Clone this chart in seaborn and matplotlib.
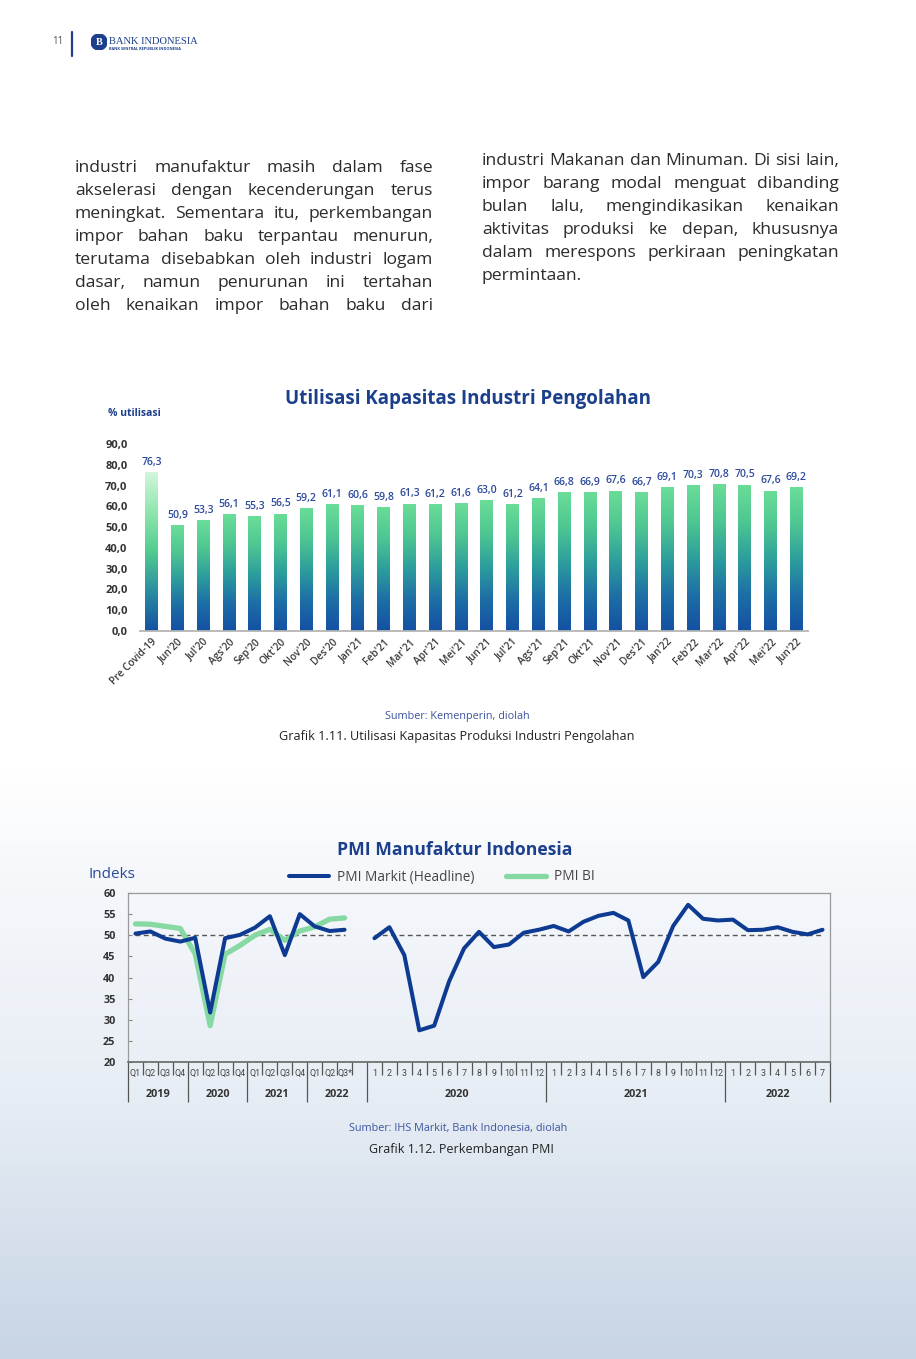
import numpy as np
import pandas as pd
import matplotlib
matplotlib.use("Agg")
import matplotlib.pyplot as plt
import seaborn as sns
from matplotlib.colors import LinearSegmentedColormap
from matplotlib.lines import Line2D
from matplotlib.patches import Circle

# ---- data: capacity utilisation (bar chart) ----
periods = ["Pre Covid-19", "Jun'20", "Jul'20", "Ags'20", "Sep'20", "Okt'20", "Nov'20",
           "Des'20", "Jan'21", "Feb'21", "Mar'21", "Apr'21", "Mei'21", "Jun'21",
           "Jul'21", "Ags'21", "Sep'21", "Okt'21", "Nov'21", "Des'21", "Jan'22",
           "Feb'22", "Mar'22", "Apr'22", "Mei'22", "Jun'22"]
utilisasi = [76.3, 50.9, 53.3, 56.1, 55.3, 56.5, 59.2, 61.1, 60.6, 59.8, 61.3, 61.2,
             61.6, 63.0, 61.2, 64.1, 66.8, 66.9, 67.6, 66.7, 69.1, 70.3, 70.8, 70.5,
             67.6, 69.2]
util_ticks = [0, 10, 20, 30, 40, 50, 60, 70, 80, 90]

# ---- data: PMI ----
quarters = ["Q1", "Q2", "Q3", "Q4", "Q1", "Q2", "Q3", "Q4", "Q1", "Q2", "Q3", "Q4",
            "Q1", "Q2", "Q3*"]
quarter_years = ["2019", "2020", "2021", "2022"]
quarter_counts = [4, 4, 4, 3]
markit_quarterly = [50.4, 50.9, 49.2, 48.5, 49.4, 31.7, 49.3, 50.1, 51.8, 54.5,
                    45.3, 55.0, 52.1, 51.0, 51.3]
bi_quarterly = [52.7, 52.6, 52.1, 51.6, 45.6, 28.6, 45.5, 47.6, 50.0, 51.4, 48.8,
                51.0, 52.0, 53.8, 54.1]
months = ["1", "2", "3", "4", "5", "6", "7", "8", "9", "10", "11", "12",
          "1", "2", "3", "4", "5", "6", "7", "8", "9", "10", "11", "12",
          "1", "2", "3", "4", "5", "6", "7"]
month_years = ["2020", "2021", "2022"]
month_counts = [12, 12, 7]
markit_monthly = [49.3, 51.9, 45.3, 27.5, 28.6, 39.1, 46.9, 50.8, 47.2, 47.8, 50.6,
                  51.3, 52.2, 50.9, 53.2, 54.6, 55.3, 53.5, 40.1, 43.7, 52.2, 57.2,
                  53.9, 53.5, 53.7, 51.2, 51.3, 51.9, 50.8, 50.2, 51.3]
pmi_threshold = 50
pmi_ticks = [20, 25, 30, 35, 40, 45, 50, 55, 60]

# ---- page text ----
left_lines = [
    "industri manufaktur masih dalam fase",
    "akselerasi dengan kecenderungan terus",
    "meningkat. Sementara itu, perkembangan",
    "impor bahan baku terpantau menurun,",
    "terutama disebabkan oleh industri logam",
    "dasar, namun penurunan ini tertahan",
    "oleh kenaikan impor bahan baku dari",
]
right_lines = [
    "industri Makanan dan Minuman. Di sisi lain,",
    "impor barang modal menguat dibanding",
    "bulan lalu, mengindikasikan kenaikan",
    "aktivitas produksi ke depan, khususnya",
    "dalam merespons perkiraan peningkatan",
    "permintaan.",
]

NAVY = "#1c3f8c"
BLUE_LINE = "#0e3b92"
GREEN_LINE = "#86d9a3"
TEXT = "#2b2b2b"

sns.set_theme(style="white")
plt.rcParams["font.family"] = ["Open Sans", "DejaVu Sans"]

W, H = 916, 1359
fig = plt.figure(figsize=(W / 100, H / 100), dpi=100)


def fx(px):
    return px / W


def fy(py):
    return 1 - py / H


# page background: white at top fading into pale blue
bg = fig.add_axes([0, 0, 1, 1], zorder=-10)
bg_cmap = LinearSegmentedColormap.from_list(
    "bg", [(0, "#ffffff"), (0.57, "#ffffff"), (0.65, "#f5f7fb"),
           (0.8, "#e8eef5"), (1, "#c8d5e5")])
bg.imshow(np.linspace(0, 1, 600).reshape(-1, 1), cmap=bg_cmap, aspect="auto",
          extent=[0, 1, 0, 1], origin="upper")
bg.axis("off")

# header
fig.text(fx(58), fy(42), "11", fontsize=7, color="#555555", ha="center", va="center")
fig.add_artist(Line2D([fx(72), fx(72)], [fy(32), fy(56)], color=NAVY, lw=1.6,
                      transform=fig.transFigure))
logo = fig.add_axes([fx(91), fy(50), fx(16), 16 / H])
logo.add_patch(Circle((0.5, 0.5), 0.5, color=NAVY))
logo.text(0.5, 0.47, "B", color="white", ha="center", va="center", fontsize=7.5,
          fontweight="bold", family="Liberation Serif")
logo.set_xlim(0, 1)
logo.set_ylim(0, 1)
logo.axis("off")
fig.text(fx(109), fy(41), "BANK INDONESIA", fontsize=7.6, color=NAVY,
         family="Liberation Serif", va="center")
fig.text(fx(109), fy(49.5), "BANK SENTRAL REPUBLIK INDONESIA", fontsize=2.8,
         color=NAVY, fontweight="bold", va="center")

# justified body text
renderer = fig.canvas.get_renderer()


def justify(lines, x0, x1, base0, dy, last_full):
    for i, line in enumerate(lines):
        words = line.split()
        y = fy(base0 + dy * i)
        texts = [fig.text(0, y, w, fontsize=12.6, color=TEXT, va="baseline") for w in words]
        widths = [t.get_window_extent(renderer).width for t in texts]
        if (i < len(lines) - 1 or last_full) and len(words) > 1:
            gap = (x1 - x0 - sum(widths)) / (len(words) - 1)
        else:
            gap = 4.5
        x = x0
        for t, w in zip(texts, widths):
            t.set_x(fx(x))
            x += w + gap


justify(left_lines, 75, 433, 172, 23, True)
justify(right_lines, 482, 839, 165, 23, False)

# ---- chart 1: capacity utilisation ----
ax1 = fig.add_axes([fx(140), fy(631), fx(808) - fx(140), (631 - 444) / H])
ax1.set_facecolor("none")
util_df = pd.DataFrame({"periode": periods, "utilisasi": utilisasi})
sns.barplot(data=util_df, x="periode", y="utilisasi", ax=ax1, width=0.5,
            color="#2a8fa0", saturation=1)

bar_cmap = LinearSegmentedColormap.from_list(
    "bars", ["#1450a3", "#1d6fa6", "#2d9f9c", "#4fc792", "#6bdd98"])
pre_cmap = LinearSegmentedColormap.from_list(
    "pre", ["#1450a3", "#2a8ea0", "#52cc8f", "#8fe6ad", "#d2f6dd"])
grad = np.linspace(0, 1, 256).reshape(-1, 1)
for i, p in enumerate(ax1.patches):
    x0, w, h = p.get_x(), p.get_width(), p.get_height()
    im = ax1.imshow(grad, extent=[x0, x0 + w, 0, h], origin="lower", aspect="auto",
                    cmap=pre_cmap if i == 0 else bar_cmap, zorder=2)
    im.set_clip_path(p)
    p.set_facecolor("none")
    p.set_edgecolor("none")
    ax1.annotate(f"{utilisasi[i]:.1f}".replace(".", ","), (x0 + w / 2, h),
                 xytext=(0, 3), textcoords="offset points", ha="center", va="bottom",
                 fontsize=7.6, fontweight="semibold", color="#2d4b9b",
                 annotation_clip=False)

ax1.set_xlim(-0.45, len(periods) - 0.55)
ax1.set_ylim(0, 90)
ax1.set_yticks(util_ticks)
ax1.set_yticklabels([f"{v:.1f}".replace(".", ",") for v in util_ticks],
                    fontsize=8, fontweight="bold", color="#333333")
ax1.set_xticks(range(len(periods)))
ax1.set_xticklabels(periods, rotation=45, ha="right", rotation_mode="anchor",
                    fontsize=7.3, color="#3a3a3a", fontweight="semibold")
ax1.tick_params(axis="both", length=0)
ax1.tick_params(axis="y", pad=9)
ax1.tick_params(axis="x", pad=4)
ax1.set_xlabel("")
ax1.set_ylabel("")
for side in ["top", "right", "left"]:
    ax1.spines[side].set_visible(False)
ax1.spines["bottom"].set_color("#b5b5b5")
ax1.spines["bottom"].set_linewidth(1.3)

fig.text(fx(468), fy(399), "Utilisasi Kapasitas Industri Pengolahan", fontsize=13.5,
         fontweight="bold", color=NAVY, ha="center", va="center")
fig.text(fx(108), fy(413), "% utilisasi", fontsize=7.5, fontweight="bold",
         color=NAVY, ha="left", va="center")
fig.text(fx(457), fy(716), "Sumber: Kemenperin, diolah", fontsize=7.8,
         color="#3d55a0", ha="center", va="center")
fig.text(fx(457), fy(737), "Grafik 1.11. Utilisasi Kapasitas Produksi Industri Pengolahan",
         fontsize=9.1, color="#222222", ha="center", va="center")

# ---- chart 2: PMI ----
ax2 = fig.add_axes([fx(128), fy(1062), fx(830) - fx(128), (1062 - 893) / H])
ax2.set_facecolor("none")
q_pos = np.arange(len(quarters))
m_pos = len(quarters) + 1 + np.arange(len(months))
n_slots = len(quarters) + 1 + len(months)

sns.lineplot(x=q_pos, y=[pmi_threshold] * len(q_pos), ax=ax2, color="#555555",
             lw=1.0, linestyle=(0, (3.5, 2.5)), zorder=1)
sns.lineplot(x=m_pos, y=[pmi_threshold] * len(m_pos), ax=ax2, color="#555555",
             lw=1.0, linestyle=(0, (3.5, 2.5)), zorder=1)
sns.lineplot(x=q_pos, y=bi_quarterly, ax=ax2, color=GREEN_LINE, lw=3.8, zorder=2,
             solid_joinstyle="round", solid_capstyle="round")
sns.lineplot(x=q_pos, y=markit_quarterly, ax=ax2, color=BLUE_LINE, lw=2.9, zorder=3,
             solid_joinstyle="round", solid_capstyle="round")
sns.lineplot(x=m_pos, y=markit_monthly, ax=ax2, color=BLUE_LINE, lw=2.9, zorder=3,
             solid_joinstyle="round", solid_capstyle="round")

ax2.set_xlim(-0.5, n_slots - 0.5)
ax2.set_ylim(20, 60)
ax2.set_yticks(pmi_ticks)
ax2.set_yticklabels([str(v) for v in pmi_ticks], fontsize=7.8, fontweight="bold",
                    color="#333333")
ax2.tick_params(axis="y", direction="in", length=3, width=0.8, color="#888888", pad=9,
                left=True)

# category grid under the axis: short separators per cell, long ones per year
q_bounds = np.concatenate([[-0.5], -0.5 + np.cumsum(quarter_counts)])
m_bounds = m_pos[0] - 0.5 + np.concatenate([[0], np.cumsum(month_counts)])
major = sorted(set(list(q_bounds[:-1]) + list(m_bounds)))
minor = [b for b in list(q_pos + 0.5) + list(m_pos + 0.5) if b not in major]
ax2.set_xticks(major)
ax2.set_xticklabels([])
ax2.set_xticks(minor, minor=True)
ax2.tick_params(axis="x", which="major", direction="out", length=28.8, width=0.9,
                color="#555555", bottom=True)
ax2.tick_params(axis="x", which="minor", direction="out", length=9.4, width=0.9,
                color="#555555", bottom=True)

xt = ax2.get_xaxis_transform()
for pos, lab in zip(list(q_pos) + list(m_pos), quarters + months):
    ax2.text(pos, -0.067, lab, transform=xt, ha="center", va="center", fontsize=6.4,
             color="#444444", family="Roboto")
q_spans = list(q_bounds[:-1]) + [m_bounds[0]]
for k, yr in enumerate(quarter_years):
    ax2.text((q_spans[k] + q_spans[k + 1]) / 2, -0.19, yr, transform=xt, ha="center",
             va="center", fontsize=7.8, fontweight="bold", color="#333333")
for k, yr in enumerate(month_years):
    ax2.text((m_bounds[k] + m_bounds[k + 1]) / 2, -0.19, yr, transform=xt,
             ha="center", va="center", fontsize=7.8, fontweight="bold", color="#333333")

for side in ["top", "right", "left"]:
    ax2.spines[side].set_color("#9a9a9a")
    ax2.spines[side].set_linewidth(0.9)
ax2.spines["bottom"].set_color("#666666")
ax2.spines["bottom"].set_linewidth(1.2)
ax2.set_xlabel("")
ax2.set_ylabel("")

handles = [Line2D([], [], color=BLUE_LINE, lw=2.9), Line2D([], [], color=GREEN_LINE, lw=3.8)]
ax2.legend(handles, ["PMI Markit (Headline)", "PMI BI"], loc="center",
           bbox_to_anchor=(fx(442), fy(877)), bbox_transform=fig.transFigure,
           ncol=2, frameon=False, fontsize=9.8, handlelength=2.95, handletextpad=0.6,
           columnspacing=2.3, labelcolor="#444444")

fig.text(fx(455), fy(850), "PMI Manufaktur Indonesia", fontsize=12.7,
         fontweight="bold", color=NAVY, ha="center", va="center")
fig.text(fx(88), fy(875), "Indeks", fontsize=11, color="#2a4a9a", ha="left",
         va="center")
fig.text(fx(458), fy(1129), "Sumber: IHS Markit, Bank Indonesia, diolah",
         fontsize=7.8, color="#3d55a0", ha="center", va="center")
fig.text(fx(461), fy(1150), "Grafik 1.12. Perkembangan PMI", fontsize=9.0,
         color="#222222", ha="center", va="center")

fig.savefig("out.png", dpi=100)
